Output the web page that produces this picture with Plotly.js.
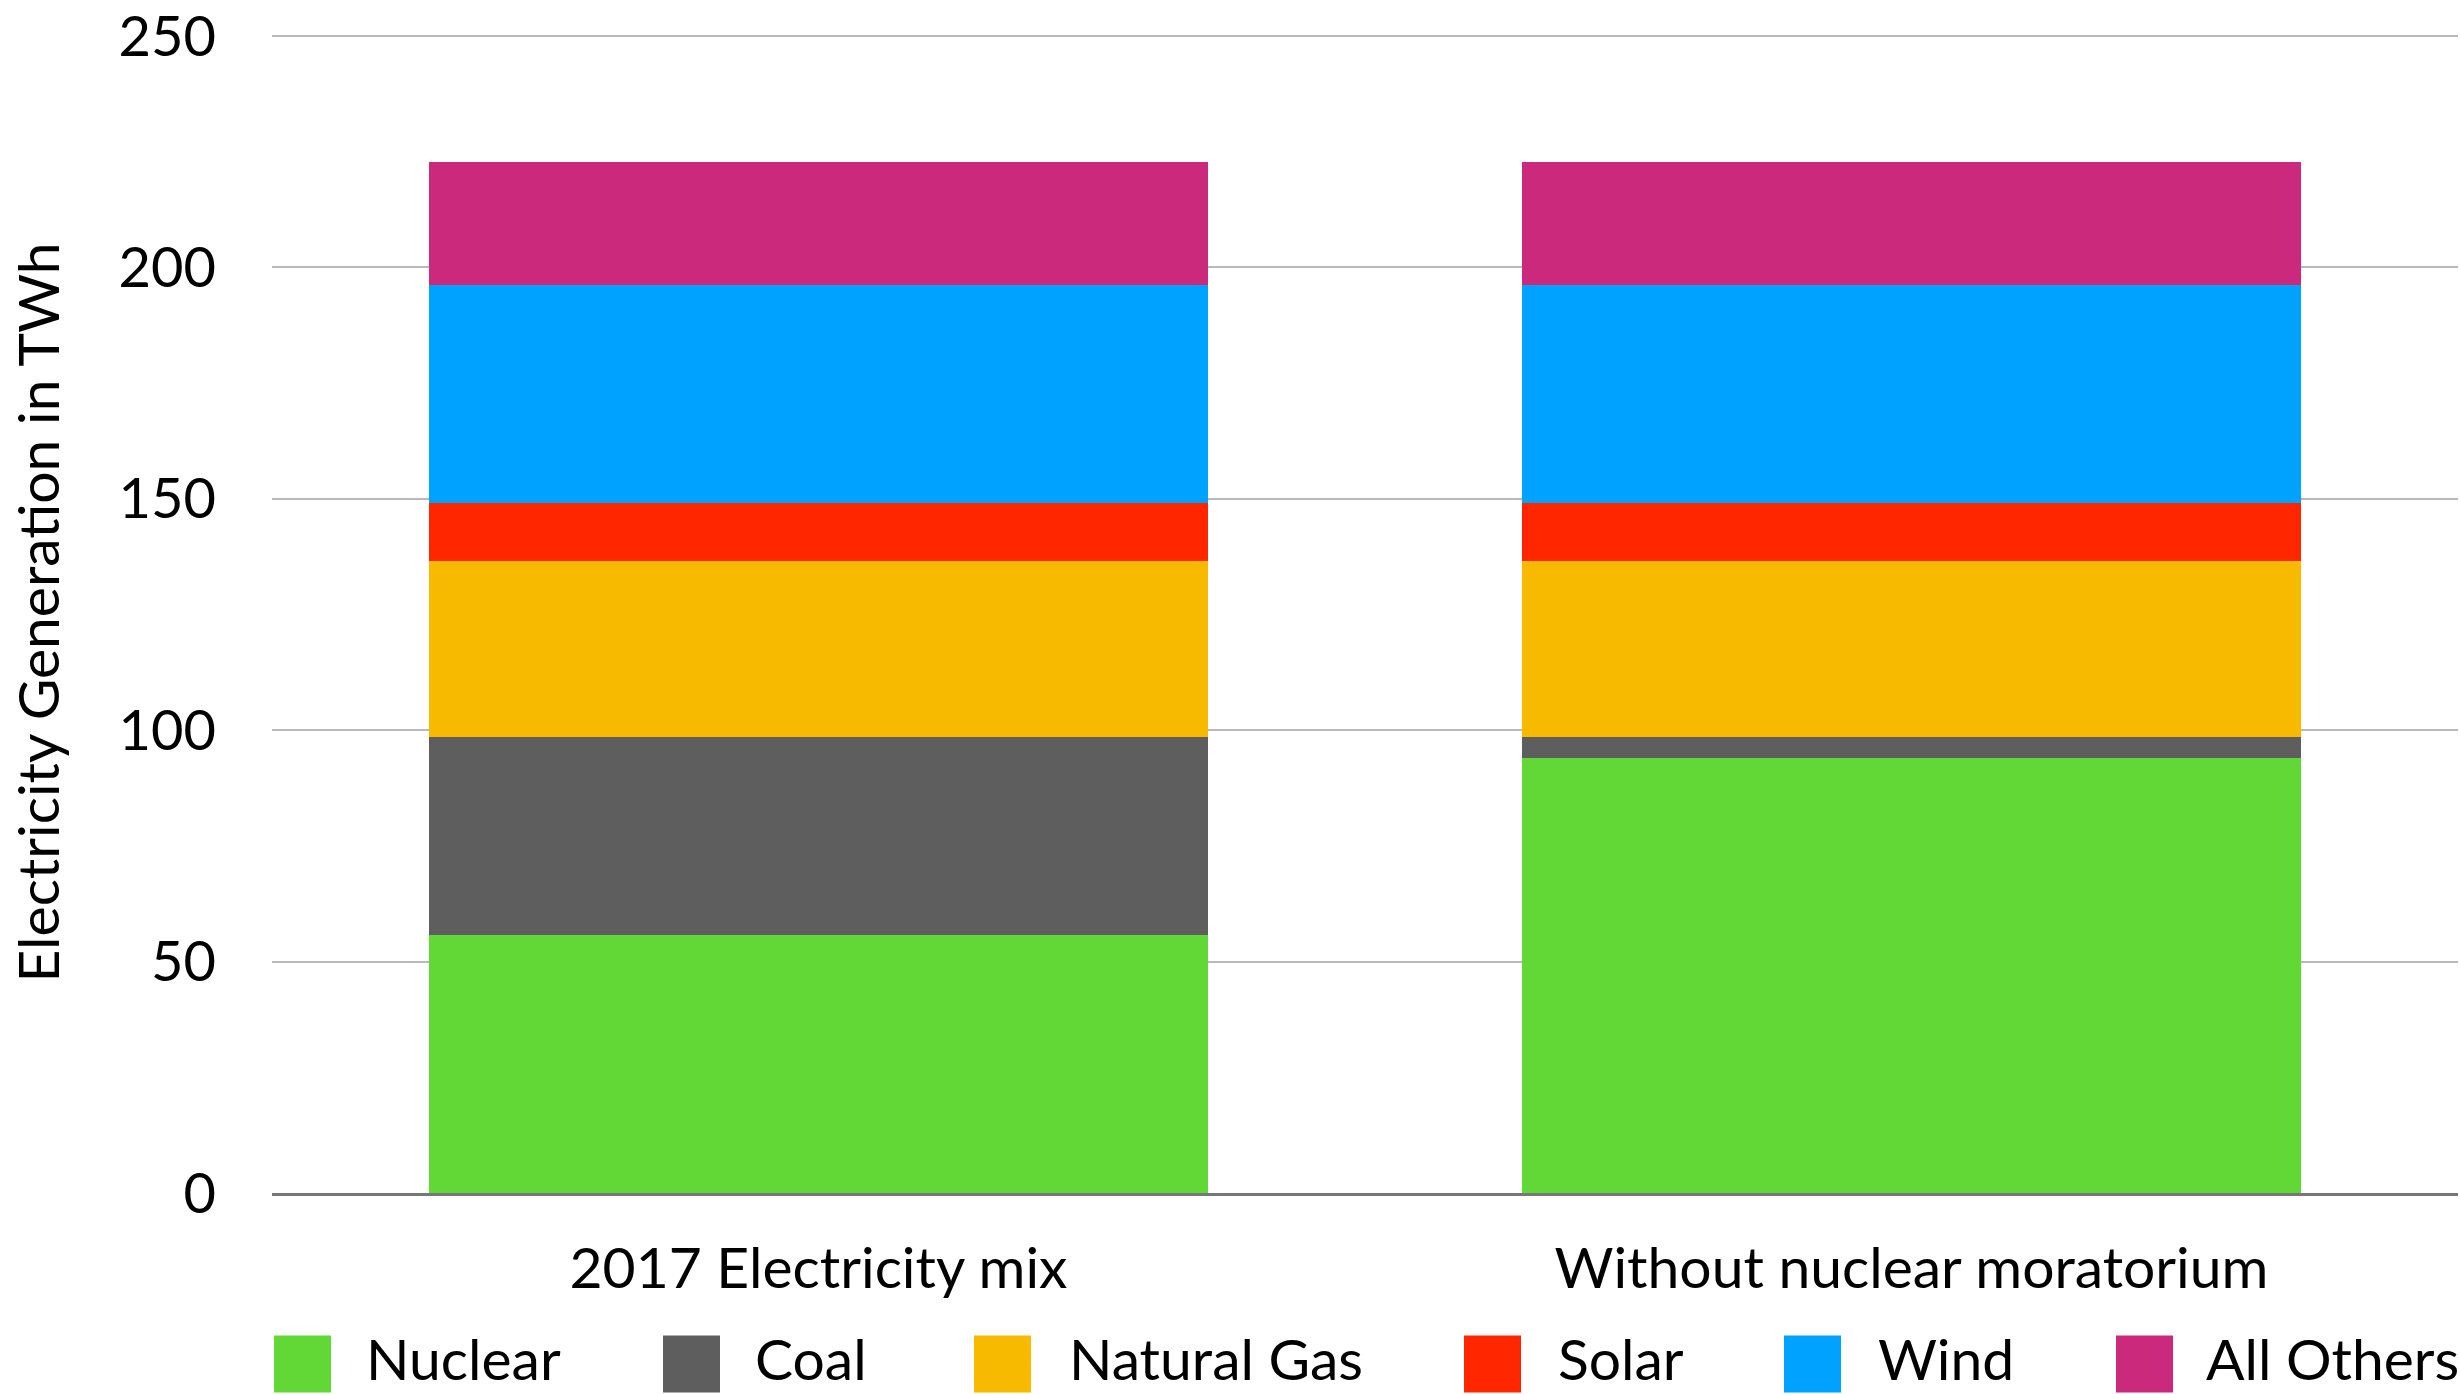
<!DOCTYPE html>
<html>
<head>
<meta charset="utf-8">
<script src="https://cdn.plot.ly/plotly-3.0.1.min.js"></script>
<style>
  html, body { margin: 0; padding: 0; background: #ffffff; }
  #chart { width: 2460px; height: 1394px; }
</style>
</head>
<body>
<div id="chart"></div>
<script>
// Scenario categories (x axis)
const scenarios = ["2017 Electricity mix", "Without nuclear moratorium"];

// Generation by source, TWh, one value per scenario
const nuclear    = [55.8, 93.9];
const coal       = [42.7, 4.6];
const naturalGas = [38.0, 38.0];
const solar      = [12.7, 12.7];
const wind       = [47.0, 47.0];
const allOthers  = [26.6, 26.6];

const seriesNames = ["Nuclear", "Coal", "Natural Gas", "Solar", "Wind", "All Others"];
const seriesValues = [nuclear, coal, naturalGas, solar, wind, allOthers];

// Y axis ticks
const yTicks = [0, 50, 100, 150, 200, 250];

// Styling
const colors = ["#61D836", "#5E5E5E", "#F8BA00", "#FF2600", "#00A2FF", "#CB297B"];
const FONT = "Lato, 'Noto Sans', sans-serif";
const FS = 57;
const TICK_FS = 56;

// Plot area in page pixels: value 0 sits at y=1193, value 250 at y=36
const W = 2460, H = 1394;
const pxPerUnit = (1193 - 36) / 250;
const M = { l: 272, r: 2, t: 32, b: 201 };
const plotW = W - M.l - M.r;
const plotH = H - M.t - M.b;
const yMax = plotH / pxPerUnit;   // a hair above 250 so the top gridline shows
const paperX = px => (px - M.l) / plotW;
const paperY = py => (H - M.b - py) / plotH;

// Legend layout: swatch left edges and label left edges (page px)
const legendSwatchX = [274, 663, 974, 1464, 1784, 2116];
const legendTextX   = [364, 753, 1067, 1556, 1876, 2204];
const legendSwatchY = 1364;
const legendTextY   = 1358;
const SWATCH = 57;

const traces = seriesNames.map((name, i) => ({
  type: "bar",
  name: name,
  x: scenarios,
  y: seriesValues[i],
  marker: { color: colors[i], line: { width: 0 } },
  hoverinfo: "x+y+name"
}));

const shapes = seriesNames.map((name, i) => ({
  type: "rect",
  xref: "paper", yref: "paper",
  xsizemode: "pixel", ysizemode: "pixel",
  xanchor: paperX(legendSwatchX[i]),
  yanchor: paperY(legendSwatchY),
  x0: 0, x1: SWATCH,
  y0: -SWATCH / 2, y1: SWATCH / 2,
  fillcolor: colors[i],
  line: { width: 0 }
}));

const annotations = seriesNames.map((name, i) => ({
  xref: "paper", yref: "paper",
  x: paperX(legendTextX[i]),
  y: paperY(legendTextY),
  xanchor: "left", yanchor: "middle",
  text: name,
  showarrow: false,
  font: { family: FONT, size: FS, color: "#000000" }
}));

const layout = {
  width: W, height: H,
  margin: M,
  paper_bgcolor: "#ffffff",
  plot_bgcolor: "#ffffff",
  barmode: "stack",
  bargap: 0.287,
  showlegend: false,
  font: { family: FONT, size: FS, color: "#000000" },
  xaxis: {
    type: "category",
    showgrid: false,
    showline: true,
    linecolor: "#777777",
    linewidth: 3,
    ticks: "",
    ticklabelstandoff: 24,
    tickfont: { family: FONT, size: FS, color: "#000000" },
    automargin: false
  },
  yaxis: {
    range: [0, yMax],
    tickvals: yTicks,
    ticktext: yTicks.map(String),
    showgrid: true,
    gridcolor: "#b9b9b9",
    gridwidth: 2,
    zeroline: false,
    showline: false,
    ticks: "",
    ticklabelstandoff: 55,
    ticklabeloverflow: "allow",
    tickfont: { family: FONT, size: TICK_FS, color: "#000000" },
    title: {
      text: "Electricity Generation in TWh",
      font: { family: FONT, size: FS, color: "#000000" },
      standoff: 40
    },
    automargin: false
  },
  shapes: shapes,
  annotations: annotations
};

Plotly.newPlot("chart", traces, layout, { staticPlot: true, displayModeBar: false });
</script>
</body>
</html>
